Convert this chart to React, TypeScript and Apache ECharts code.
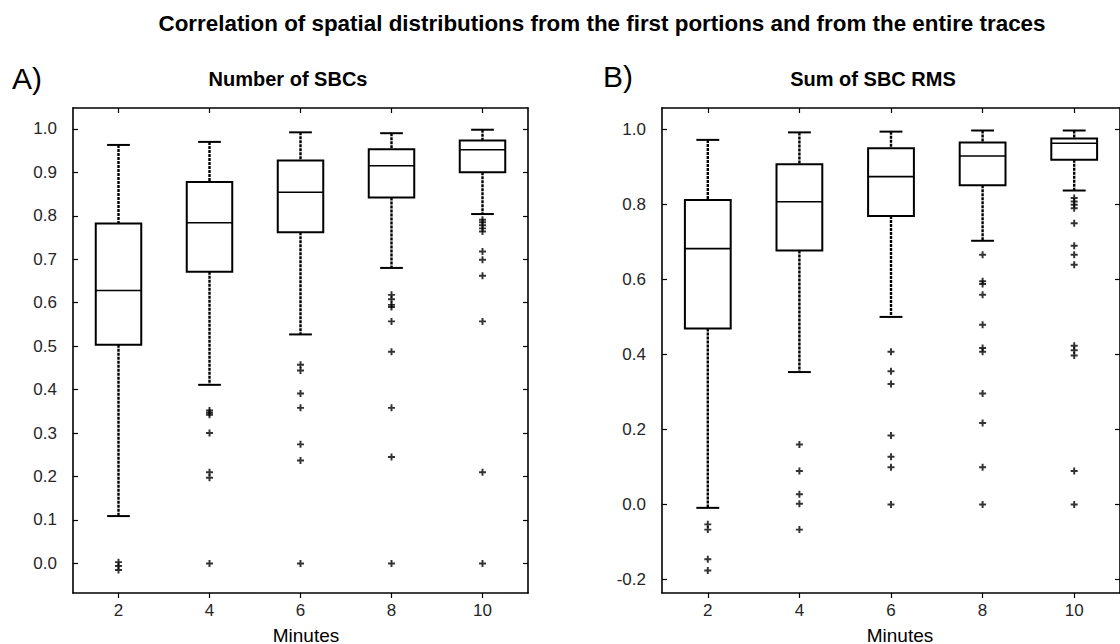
import React, { useEffect, useRef } from "react";
import * as echarts from "echarts";

const minutes = [2, 4, 6, 8, 10];

// [lower whisker, Q1, median, Q3, upper whisker]
const countStats = [
  [0.109, 0.503, 0.628, 0.782, 0.963],
  [0.411, 0.671, 0.784, 0.878, 0.970],
  [0.527, 0.762, 0.854, 0.927, 0.992],
  [0.680, 0.842, 0.915, 0.953, 0.990],
  [0.804, 0.900, 0.952, 0.973, 0.998],
];
const countOutliers = [
  [0.003, -0.006, -0.015],
  [0.352, 0.347, 0.342, 0.300, 0.210, 0.197, 0.0],
  [0.457, 0.444, 0.391, 0.358, 0.274, 0.237, 0.0],
  [0.618, 0.608, 0.595, 0.590, 0.557, 0.487, 0.358, 0.245, 0.0],
  [0.791, 0.785, 0.778, 0.771, 0.764, 0.718, 0.699, 0.662, 0.557, 0.210, 0.0],
];

const rmsStats = [
  [-0.009, 0.469, 0.682, 0.812, 0.972],
  [0.353, 0.677, 0.807, 0.907, 0.992],
  [0.500, 0.769, 0.874, 0.950, 0.994],
  [0.703, 0.851, 0.929, 0.965, 0.997],
  [0.837, 0.919, 0.963, 0.976, 0.997],
];
const rmsOutliers = [
  [-0.053, -0.067, -0.146, -0.176],
  [0.160, 0.089, 0.027, 0.002, -0.067],
  [0.407, 0.355, 0.321, 0.184, 0.127, 0.099, 0.0],
  [0.666, 0.595, 0.588, 0.559, 0.479, 0.417, 0.407, 0.296, 0.217, 0.099, 0.0],
  [0.817, 0.808, 0.799, 0.790, 0.750, 0.690, 0.666, 0.639, 0.423, 0.411, 0.397, 0.089, 0.0],
];

const countTicks = [0, 0.1, 0.2, 0.3, 0.4, 0.5, 0.6, 0.7, 0.8, 0.9, 1.0];
const rmsTicks = [-0.2, 0, 0.2, 0.4, 0.6, 0.8, 1.0];

const mainTitle = "Correlation of spatial distributions from the first portions and from the entire traces";
const panelTitles = ["Number of SBCs", "Sum of SBC RMS"];
const panelLetters = ["A)", "B)"];
const xName = "Minutes";

const FONT = "Liberation Sans, Arial, sans-serif";
const PLUS = "path://M3.6,0H6.4V3.6H10V6.4H6.4V10H3.6V6.4H0V3.6H3.6Z";

function boxData(stats: number[][]) {
  return minutes.map((m, i) => [m, ...stats[i]]);
}
function outlierData(out: number[][]) {
  const res: number[][] = [];
  out.forEach((arr, i) => arr.forEach((v) => res.push([minutes[i], v])));
  return res;
}

function renderBox(params: any, api: any) {
  const x = api.value(0);
  const lo = api.coord([x, api.value(1)]);
  const q1 = api.coord([x, api.value(2)]);
  const med = api.coord([x, api.value(3)]);
  const q3 = api.coord([x, api.value(4)]);
  const hi = api.coord([x, api.value(5)]);
  const unit = api.size([1, 0])[0];
  const hb = unit / 2;
  const hc = unit / 4;
  const cx = lo[0];
  const solid = { stroke: "#000", lineWidth: 2, fill: "none" };
  const dash = { stroke: "#000", lineWidth: 2.4, lineDash: [3, 1], fill: "none" };
  return {
    type: "group",
    children: [
      { type: "line", shape: { x1: cx, y1: hi[1], x2: cx, y2: q3[1] }, style: dash },
      { type: "line", shape: { x1: cx, y1: q1[1], x2: cx, y2: lo[1] }, style: dash },
      { type: "line", shape: { x1: cx - hc, y1: hi[1], x2: cx + hc, y2: hi[1] }, style: solid },
      { type: "line", shape: { x1: cx - hc, y1: lo[1], x2: cx + hc, y2: lo[1] }, style: solid },
      {
        type: "rect",
        shape: { x: cx - hb, y: q3[1], width: 2 * hb, height: q1[1] - q3[1] },
        style: solid,
      },
      {
        type: "line",
        shape: { x1: cx - hb, y1: med[1], x2: cx + hb, y2: med[1] },
        style: { stroke: "#000", lineWidth: 1.6 },
      },
    ],
  };
}

const axisLine = { show: true, onZero: false, lineStyle: { color: "#000", width: 1.6 } };
const tickStyle = { color: "#000", width: 1.2 };
const labelStyle = { fontSize: 17, color: "#262626", fontFamily: FONT };

function xAxes(gridIndex: number) {
  return [
    {
      type: "value",
      gridIndex,
      min: 1,
      max: 11,
      position: "bottom",
      axisLine,
      axisTick: { show: true, inside: false, length: 5, lineStyle: tickStyle, customValues: minutes },
      axisLabel: { show: true, margin: 9, customValues: minutes, ...labelStyle },
      splitLine: { show: false },
    },
    {
      type: "value",
      gridIndex,
      min: 1,
      max: 11,
      position: "top",
      axisLine,
      axisTick: { show: true, inside: true, length: 5, lineStyle: tickStyle, customValues: minutes },
      axisLabel: { show: false },
      splitLine: { show: false },
    },
  ];
}

function yAxes(gridIndex: number, min: number, max: number, ticks: number[]) {
  return [
    {
      type: "value",
      gridIndex,
      min,
      max,
      position: "left",
      axisLine,
      axisTick: { show: true, inside: true, length: 5, lineStyle: tickStyle, customValues: ticks },
      axisLabel: {
        show: true,
        margin: 16,
        customValues: ticks,
        formatter: (v: number) => v.toFixed(1),
        ...labelStyle,
      },
      splitLine: { show: false },
    },
    {
      type: "value",
      gridIndex,
      min,
      max,
      position: "right",
      axisLine,
      axisTick: { show: true, inside: true, length: 5, lineStyle: tickStyle, customValues: ticks },
      axisLabel: { show: false },
      splitLine: { show: false },
    },
  ];
}

function txt(text: string, x: number, y: number, size: number, bold: boolean, align = "center") {
  return {
    type: "text",
    x,
    y,
    style: {
      text,
      fontSize: size,
      fontWeight: bold ? "bold" : "normal",
      fontFamily: FONT,
      fill: "#000",
      align,
      verticalAlign: "middle",
      textAlign: align,
      textVerticalAlign: "middle",
    },
  };
}

export default function App() {
  const ref = useRef<HTMLDivElement>(null);
  useEffect(() => {
    if (!ref.current) return;
    const chart = echarts.init(ref.current, null, { renderer: "svg" });
    chart.setOption({
      animation: false,
      backgroundColor: "#fff",
      grid: [
        { left: 73, top: 108, width: 455, height: 485 },
        { left: 662, top: 108, width: 461, height: 485 },
      ],
      xAxis: [...xAxes(0), ...xAxes(1)],
      yAxis: [
        ...yAxes(0, -0.068, 1.048, countTicks),
        ...yAxes(1, -0.236, 1.057, rmsTicks),
      ],
      series: [
        {
          type: "custom",
          xAxisIndex: 0,
          yAxisIndex: 0,
          renderItem: renderBox,
          encode: { x: 0, y: [1, 2, 3, 4, 5] },
          data: boxData(countStats),
          clip: false,
        },
        {
          type: "scatter",
          xAxisIndex: 0,
          yAxisIndex: 0,
          symbol: PLUS,
          symbolSize: 7,
          itemStyle: { color: "#000" },
          data: outlierData(countOutliers),
        },
        {
          type: "custom",
          xAxisIndex: 2,
          yAxisIndex: 2,
          renderItem: renderBox,
          encode: { x: 0, y: [1, 2, 3, 4, 5] },
          data: boxData(rmsStats),
          clip: false,
        },
        {
          type: "scatter",
          xAxisIndex: 2,
          yAxisIndex: 2,
          symbol: PLUS,
          symbolSize: 7,
          itemStyle: { color: "#000" },
          data: outlierData(rmsOutliers),
        },
      ],
      graphic: [
        txt(mainTitle, 602, 23, 22.4, true),
        txt(panelLetters[0], 12, 78, 30, false, "left"),
        txt(panelLetters[1], 603, 76, 30, false, "left"),
        txt(panelTitles[0], 288, 79, 20, true),
        txt(panelTitles[1], 873, 79, 20, true),
        txt(xName, 306, 635, 19, false),
        txt(xName, 900, 635, 19, false),
      ],
    });
    return () => chart.dispose();
  }, []);
  return (
    <div
      ref={ref}
      style={{ position: "absolute", left: 0, top: 0, width: 1120, height: 644, background: "#fff" }}
    />
  );
}
